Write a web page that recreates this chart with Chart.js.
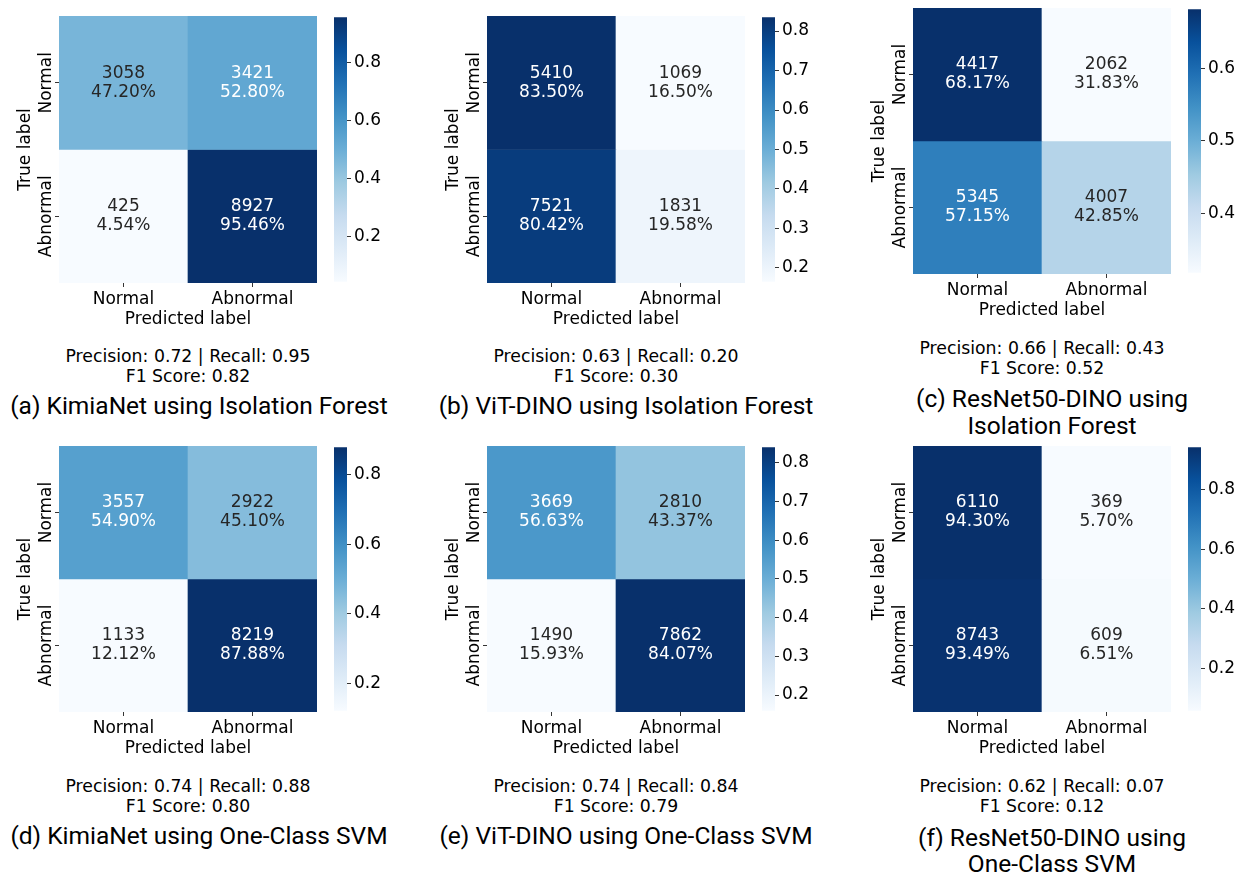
<!DOCTYPE html>
<html>
<head>
<meta charset="utf-8">
<script src="https://cdn.jsdelivr.net/npm/chart.js@4.4.1/dist/chart.umd.min.js"></script>
<style>
    body { margin: 0; background: #fff; width: 1239px; height: 873px; position: relative; overflow: hidden; }
    canvas { position: absolute; }
    .txt { position: absolute; text-align: center; white-space: nowrap; color: #000; }
    .metric { font-family: 'DejaVu Sans'; font-size: 17.3px; line-height: 20px; }
    .cap { font-family: Roboto; font-size: 24.5px; line-height: 27px; }
</style>
</head>
<body>
<script>
// axis categories
const predLabels = ['Normal', 'Abnormal'];
const trueLabels = ['Normal', 'Abnormal'];

// confusion matrices (rows = true label, cols = predicted label)
const kimiaIfCounts = [[3058, 3421], [425, 8927]];
const kimiaIfPct = [[47.20, 52.80], [4.54, 95.46]];
const vitIfCounts = [[5410, 1069], [7521, 1831]];
const vitIfPct = [[83.50, 16.50], [80.42, 19.58]];
const resIfCounts = [[4417, 2062], [5345, 4007]];
const resIfPct = [[68.17, 31.83], [57.15, 42.85]];
const kimiaSvmCounts = [[3557, 2922], [1133, 8219]];
const kimiaSvmPct = [[54.90, 45.10], [12.12, 87.88]];
const vitSvmCounts = [[3669, 2810], [1490, 7862]];
const vitSvmPct = [[56.63, 43.37], [15.93, 84.07]];
const resSvmCounts = [[6110, 369], [8743, 609]];
const resSvmPct = [[94.30, 5.70], [93.49, 6.51]];

// colorbar tick labels
const cbTicksA = [0.2, 0.4, 0.6, 0.8];
const cbTicksB = [0.2, 0.3, 0.4, 0.5, 0.6, 0.7, 0.8];
const cbTicksC = [0.4, 0.5, 0.6];
const cbTicksD = [0.2, 0.4, 0.6, 0.8];
const cbTicksE = [0.2, 0.3, 0.4, 0.5, 0.6, 0.7, 0.8];
const cbTicksF = [0.2, 0.4, 0.6, 0.8];

// scores under each matrix
const precision = [0.72, 0.63, 0.66, 0.74, 0.74, 0.62];
const recall = [0.95, 0.20, 0.43, 0.88, 0.84, 0.07];
const f1 = [0.82, 0.30, 0.52, 0.80, 0.79, 0.12];

const captions = [
    ['(a) KimiaNet using Isolation Forest'],
    ['(b) ViT-DINO using Isolation Forest'],
    ['(c) ResNet50-DINO using', 'Isolation Forest'],
    ['(d) KimiaNet using One-Class SVM'],
    ['(e) ViT-DINO using One-Class SVM'],
    ['(f) ResNet50-DINO using', 'One-Class SVM']
];

const matrices = [
    [kimiaIfCounts, kimiaIfPct, cbTicksA],
    [vitIfCounts, vitIfPct, cbTicksB],
    [resIfCounts, resIfPct, cbTicksC],
    [kimiaSvmCounts, kimiaSvmPct, cbTicksD],
    [vitSvmCounts, vitSvmPct, cbTicksE],
    [resSvmCounts, resSvmPct, cbTicksF]
];

// page layout of each panel (heatmap box, text rows)
const layout = [
    { hx: 59, hy: 16, hh: 267, cx: 199, metricY: 356, capY: [405] },
    { hx: 487, hy: 16, hh: 267, cx: 626, metricY: 356, capY: [405] },
    { hx: 913, hy: 8, hh: 266, cx: 1052, metricY: 348, capY: [398, 425] },
    { hx: 59, hy: 446, hh: 266, cx: 199, metricY: 786, capY: [835] },
    { hx: 487, hy: 446, hh: 266, cx: 626, metricY: 786, capY: [835] },
    { hx: 913, hy: 446, hh: 266, cx: 1052, metricY: 786, capY: [837, 863] }
];
const HEAT_W = 258;

Chart.defaults.font.family = 'DejaVu Sans';
const font = { family: 'DejaVu Sans', size: 17 };

// matplotlib "Blues"
const blues = [[247, 251, 255], [222, 235, 247], [198, 219, 239], [158, 202, 225], [107, 174, 214],
    [66, 146, 198], [33, 113, 181], [8, 81, 156], [8, 48, 107]];
const bluesAt = (t) => {
    t = Math.min(1, Math.max(0, t));
    const s = t * 8;
    const i = Math.min(7, Math.floor(s));
    const f = s - i;
    return blues[i].map((v, k) => Math.round(v + (blues[i + 1][k] - v) * f));
};
const luminance = (rgb) => {
    const c = rgb.map(v => {
        v /= 255;
        return v <= 0.03928 ? v / 12.92 : Math.pow((v + 0.055) / 1.055, 2.4);
    });
    return 0.2126 * c[0] + 0.7152 * c[1] + 0.0722 * c[2];
};

const addCanvas = (left, top, w, h) => {
    const c = document.createElement('canvas');
    c.width = w; c.height = h;
    c.style.left = left + 'px'; c.style.top = top + 'px';
    document.body.appendChild(c);
    return c;
};

const addText = (cls, text, cx, cy, lh) => {
    const d = document.createElement('div');
    d.className = 'txt ' + cls;
    d.textContent = text;
    d.style.left = (cx - 300) + 'px';
    d.style.width = '600px';
    d.style.top = (cy - lh / 2) + 'px';
    document.body.appendChild(d);
};

const makeHeatmap = (canvas, counts, pct) => {
    const flat = pct.flat();
    const vmin = Math.min(...flat), vmax = Math.max(...flat);
    const rgbOf = (r, c) => bluesAt((pct[r][c] - vmin) / (vmax - vmin));

    const cellText = {
        id: 'cellText',
        afterDatasetsDraw(chart) {
            const ctx = chart.ctx;
            ctx.save();
            ctx.font = '17px "DejaVu Sans"';
            ctx.textAlign = 'center';
            ctx.textBaseline = 'middle';
            chart.data.datasets.forEach((ds, r) => {
                chart.getDatasetMeta(r).data.forEach((bar, c) => {
                    const { x, y } = bar.getCenterPoint();
                    ctx.fillStyle = luminance(rgbOf(r, c)) > 0.408 ? '#262626' : '#ffffff';
                    ctx.fillText(String(counts[r][c]), x, y - 9.5);
                    ctx.fillText(pct[r][c].toFixed(2) + '%', x, y + 9.5);
                });
            });
            // rotated y tick labels
            const ys = chart.scales.y;
            ctx.fillStyle = '#000';
            ys.ticks.forEach((t, i) => {
                ctx.save();
                ctx.translate(ys.right - 12, ys.getPixelForValue(t.value));
                ctx.rotate(-Math.PI / 2);
                ctx.fillText(trueLabels[i], 0, 0);
                ctx.restore();
            });
            ctx.restore();
        }
    };

    return new Chart(canvas, {
        type: 'bar',
        data: {
            labels: predLabels,
            datasets: trueLabels.map((t, r) => ({
                label: t,
                data: predLabels.map(() => [r, r + 1]),
                backgroundColor: predLabels.map((p, c) => 'rgb(' + rgbOf(r, c).join(',') + ')'),
                borderWidth: 0,
                barPercentage: 1,
                categoryPercentage: 1,
                grouped: false
            }))
        },
        options: {
            responsive: false,
            animation: false,
            layout: { padding: { top: 10, right: 10, left: 0, bottom: 0 } },
            plugins: { legend: { display: false }, tooltip: { enabled: false } },
            scales: {
                x: {
                    afterFit: s => { s.height = 50; },
                    grid: { offset: false, drawOnChartArea: false, tickLength: 4, tickColor: '#000', lineWidth: 0.8 },
                    border: { display: false },
                    ticks: { font, color: '#000', padding: 2, maxRotation: 0 },
                    title: { display: true, text: 'Predicted label', font, color: '#000', padding: { top: 0, bottom: 3 } }
                },
                y: {
                    type: 'linear',
                    min: 0,
                    max: 2,
                    reverse: true,
                    afterBuildTicks: s => { s.ticks = trueLabels.map((t, i) => ({ value: i + 0.5 })); },
                    afterFit: s => { s.width = 59; },
                    ticks: { display: false },
                    grid: { drawOnChartArea: false, tickLength: 4, tickColor: '#000', lineWidth: 0.8 },
                    border: { display: false },
                    title: { display: true, text: 'True label', font, color: '#000', padding: { top: 15.5, bottom: 0 } }
                }
            }
        },
        plugins: [cellText]
    });
};

const makeColorbar = (canvas, pct, ticks) => {
    const flat = pct.flat().map(v => v / 100);
    const vmin = Math.min(...flat), vmax = Math.max(...flat);
    const W = canvas.width;
    return new Chart(canvas, {
        type: 'bar',
        data: {
            labels: ['scale'],
            datasets: [{
                data: [[vmin, vmax]],
                backgroundColor: (c) => {
                    const a = c.chart.chartArea;
                    if (!a) return 'rgb(' + blues[4].join(',') + ')';
                    const g = c.chart.ctx.createLinearGradient(0, a.bottom, 0, a.top);
                    blues.forEach((rgb, i) => g.addColorStop(i / 8, 'rgb(' + rgb.join(',') + ')'));
                    return g;
                },
                borderWidth: 0,
                barPercentage: 1,
                categoryPercentage: 1
            }]
        },
        options: {
            responsive: false,
            animation: false,
            layout: { padding: { top: 12, bottom: 12, left: 0, right: 0 } },
            plugins: { legend: { display: false }, tooltip: { enabled: false } },
            scales: {
                x: { display: false },
                y: {
                    position: 'right',
                    min: vmin,
                    max: vmax,
                    afterBuildTicks: s => { s.ticks = ticks.map(v => ({ value: v })); },
                    afterFit: s => { s.width = W - 13; },
                    ticks: { font, color: '#000', padding: 3, callback: v => v.toFixed(1) },
                    grid: { drawOnChartArea: false, tickLength: 4, tickColor: '#000', lineWidth: 0.8 },
                    border: { display: false }
                }
            }
        }
    });
};

matrices.forEach(([counts, pct, ticks], i) => {
    const L = layout[i];
    const heat = addCanvas(L.hx - 59, L.hy - 10, 59 + HEAT_W + 10, 10 + L.hh + 50);
    makeHeatmap(heat, counts, pct);

    const cbLeft = L.hx + HEAT_W + 17;
    const cb = addCanvas(cbLeft, L.hy - 12, Math.min(52, 1239 - cbLeft), L.hh + 24);
    makeColorbar(cb, pct, ticks);

    const hc = L.hx + HEAT_W / 2;
    addText('metric', 'Precision: ' + precision[i].toFixed(2) + ' | Recall: ' + recall[i].toFixed(2), hc, L.metricY, 20);
    addText('metric', 'F1 Score: ' + f1[i].toFixed(2), hc, L.metricY + 20, 20);
    captions[i].forEach((line, k) => addText('cap', line, L.cx, L.capY[k], 27));
});
</script>
</body>
</html>
